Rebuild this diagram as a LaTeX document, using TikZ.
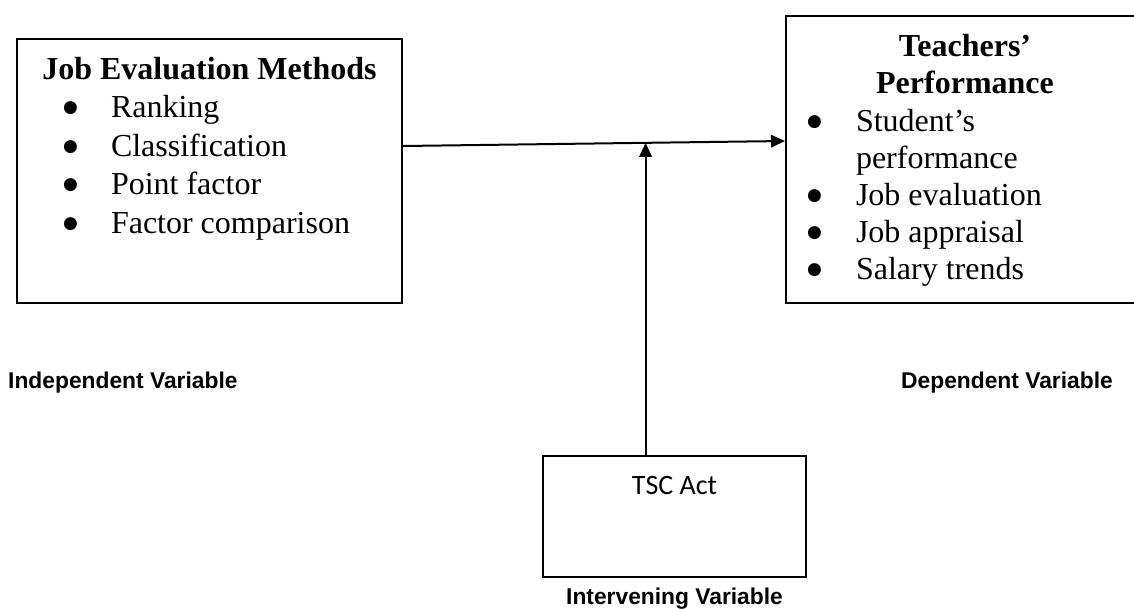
\documentclass[tikz,border=0pt]{standalone}
\usepackage{fontspec}
\setmainfont{Liberation Serif}
\newfontfamily\labelfont{Liberation Sans}
\newfontfamily\actfont{Carlito}
\newfontfamily\dotfont{DejaVu Sans}
\usetikzlibrary{arrows.meta,positioning,calc}

% bullet line: bullet at #1, text (and hang) at #2
\newcommand{\bitem}[3]{\par\hangindent=#2\hangafter=1\noindent\hspace*{#1}\makebox[\dimexpr#2-#1\relax][l]{\raisebox{5pt}{\dotfont\fontsize{17}{0}\selectfont●}}#3}

\begin{document}
\begin{tikzpicture}[x=1pt,y=-1pt,
    box/.style={draw,line width=2pt,inner sep=0pt,anchor=north west},
    varlabel/.style={font=\labelfont\bfseries\fontsize{22.8}{26}\selectfont,inner sep=0pt},
    arr/.style={-{Triangle[length=14pt,width=12.5pt]},line width=2pt}]
    \useasboundingbox (0,0) rectangle (1134,608);
    \node[box] (jem) at (16,38) {\parbox[c][264pt][t]{385pt}{\fontsize{32}{38.5}\selectfont
        \vspace*{18pt}{\centering\bfseries Job Evaluation Methods\par}
        \bitem{46pt}{94pt}{Ranking}
        \bitem{46pt}{94pt}{Classification}
        \bitem{46pt}{94pt}{Point factor}
        \bitem{46pt}{94pt}{Factor comparison}}};
    \node[box] (tp) at (785,15) {\parbox[c][287pt][t]{358pt}{\fontsize{32}{37.2}\selectfont
        \vspace*{18.5pt}{\centering\bfseries Teachers’\\Performance\par}
        \bitem{21pt}{70pt}{Student’s\newline performance}
        \bitem{21pt}{70pt}{Job evaluation}
        \bitem{21pt}{70pt}{Job appraisal}
        \bitem{21pt}{70pt}{Salary trends}}};
    \node[box] (tsc) at (542,455) {\parbox[c][121pt][t]{263pt}{\centering\actfont\fontsize{28}{34}\selectfont
        \vspace*{20pt}TSC Act\par}};
    \node[varlabel,anchor=base west] (indep) at (8,388) {Independent Variable};
    \node[varlabel,anchor=base east] (dep) at (1113,388) {Dependent Variable};
    \node[varlabel,anchor=base] (interv) at ($(tsc.south)+(0,26)$) {Intervening Variable};
    \coordinate (jemout) at ($(jem.east)+(0,-25)$);
    \coordinate (tpin) at ($(tp.west)+(0,-18.5)$);
    \coordinate (meet) at ($(jemout)!0.635!(tpin)$);
    \path[arr]
        (jemout) edge (tpin)
        (tsc.north -| meet) edge (meet);
\end{tikzpicture}
\end{document}
